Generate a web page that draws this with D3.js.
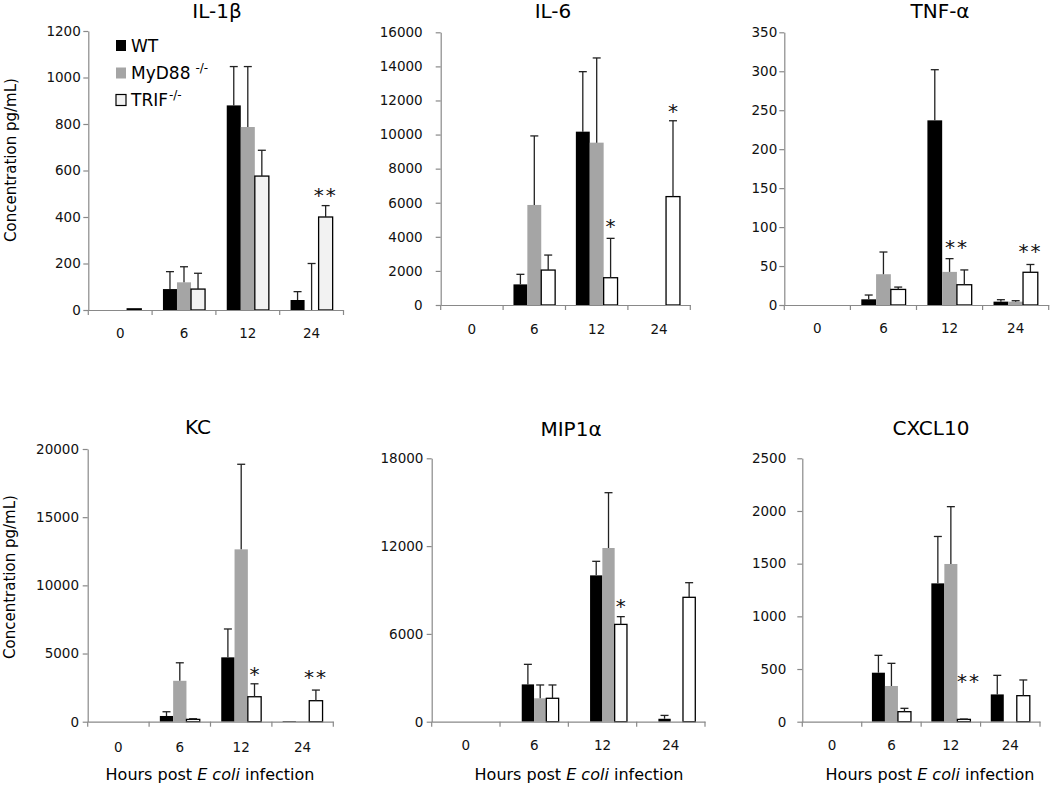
<!DOCTYPE html>
<html><head><meta charset="utf-8">
<script src="https://cdn.jsdelivr.net/npm/d3@7"></script>
<style>
body{margin:0;background:#fff;}
svg{display:block;font-family:"DejaVu Sans",sans-serif;}
</style></head><body>
<svg id="chart" width="1050" height="785"></svg>
<script>
const hours = ["0", "6", "12", "24"];
const seriesNames = ["WT", "MyD88", "TRIF"];

// IL-1β
const il1bTicks = [0, 200, 400, 600, 800, 1000, 1200];
const il1bWT = [0, 90, 880, 43];
const il1bWTErr = [0, 75, 167, 36];
const il1bMy = [0, 119, 787, 0];
const il1bMyErr = [0, 67, 260, 200];
const il1bTrif = [5, 90, 576, 400];
const il1bTrifErr = [0, 68, 111, 49];
const il1bStars = [["24", 2, 509, "**"]];

// IL-6
const il6Ticks = [0, 2000, 4000, 6000, 8000, 10000, 12000, 14000, 16000];
const il6WT = [0, 1210, 10170, 0];
const il6WTErr = [0, 590, 3520, 0];
const il6My = [0, 5870, 9525, 0];
const il6MyErr = [0, 4050, 4970, 0];
const il6Trif = [0, 2050, 1600, 6360];
const il6TrifErr = [0, 880, 2310, 4450];
const il6Stars = [["12", 2, 4880, "*"], ["24", 2, 11620, "*"]];

// TNF-α
const tnfTicks = [0, 50, 100, 150, 200, 250, 300, 350];
const tnfWT = [0, 7.3, 237, 4.3];
const tnfWTErr = [0, 5.5, 65, 2.5];
const tnfMy = [0, 39.5, 42.5, 4.3];
const tnfMyErr = [0, 28.5, 17, 1.2];
const tnfTrif = [0, 20, 26, 42];
const tnfTrifErr = [0, 3, 19, 10];
const tnfStars = [["12", 1.5, 79, "**"], ["24", 2, 74, "**"]];

// KC
const kcTicks = [0, 5000, 10000, 15000, 20000];
const kcWT = [0, 420, 4720, 50];
const kcWTErr = [0, 310, 2080, 0];
const kcMy = [0, 3000, 12640, 50];
const kcMyErr = [0, 1320, 6240, 0];
const kcTrif = [0, 170, 1830, 1540];
const kcTrifErr = [0, 50, 950, 780];
const kcStars = [["12", 2, 3790, "*"], ["24", 2, 3550, "**"]];

// MIP1α
const mipTicks = [0, 6000, 12000, 18000];
const mipWT = [0, 2550, 10000, 200];
const mipWTErr = [0, 1370, 960, 230];
const mipMy = [0, 1600, 11870, 0];
const mipMyErr = [0, 910, 3780, 0];
const mipTrif = [0, 1600, 6650, 8500];
const mipTrifErr = [0, 910, 530, 1000];
const mipStars = [["12", 2, 8200, "*"]];

// CXCL10
const cxTicks = [0, 500, 1000, 1500, 2000, 2500];
const cxWT = [0, 465, 1313, 259];
const cxWTErr = [0, 165, 445, 181];
const cxMy = [0, 339, 1497, 0];
const cxMyErr = [0, 215, 544, 0];
const cxTrif = [0, 95, 22, 247];
const cxTrifErr = [0, 32, 3, 149];
const cxStars = [["12", 2.4, 427, "**"]];

const panels = [
  {title: "IL-1β", ticks: il1bTicks, vals: [il1bWT, il1bMy, il1bTrif], errs: [il1bWTErr, il1bMyErr, il1bTrifErr], stars: il1bStars,
   L: {x0: 88.3, x1: 343.5, yTop: 31, yBottom: 310, yPad: 2.5, xPad: 18.7, frac: 0.66, shift: 0, tx: 217, ty: 18, trifFill: "#f2f2f2", ylab: [11, 160], legend: true}},
  {title: "IL-6", ticks: il6Ticks, vals: [il6WT, il6My, il6Trif], errs: [il6WTErr, il6MyErr, il6TrifErr], stars: il6Stars,
   L: {x0: 440.7, x1: 690.3, yTop: 32.3, yBottom: 305, yPad: 13, xPad: 19.5, frac: 0.668, shift: 0, tx: 553, ty: 17.5, trifFill: "#fff"}},
  {title: "TNF-α", ticks: tnfTicks, vals: [tnfWT, tnfMy, tnfTrif], errs: [tnfWTErr, tnfMyErr, tnfTrifErr], stars: tnfStars,
   L: {x0: 784.3, x1: 1048.7, yTop: 32.3, yBottom: 305, yPad: 2, xPad: 18.7, frac: 0.67, shift: 0, tx: 940, ty: 18, trifFill: "#fff"}},
  {title: "KC", ticks: kcTicks, vals: [kcWT, kcMy, kcTrif], errs: [kcWTErr, kcMyErr, kcTrifErr], stars: kcStars,
   L: {x0: 87.7, x1: 333.3, yTop: 449, yBottom: 721.7, yPad: 3.7, xPad: 20.3, frac: 0.65, shift: 0, tx: 198, ty: 434, trifFill: "#fff", ylab: [10, 577], xtitle: 210}},
  {title: "MIP1α", ticks: mipTicks, vals: [mipWT, mipMy, mipTrif], errs: [mipWTErr, mipMyErr, mipTrifErr], stars: mipStars,
   L: {x0: 431.7, x1: 705, yTop: 458.3, yBottom: 721.7, yPad: 3.3, xPad: 18.7, frac: 0.54, shift: 6, tx: 571, ty: 436, trifFill: "#fff", xtitle: 579}},
  {title: "CXCL10", ticks: cxTicks, vals: [cxWT, cxMy, cxTrif], errs: [cxWTErr, cxMyErr, cxTrifErr], stars: cxStars,
   L: {x0: 802.3, x1: 1040, yTop: 458.3, yBottom: 721.7, yPad: 11, xPad: 18.7, frac: 0.657, shift: 0, tx: 931, ty: 435, trifFill: "#fff", xtitle: 930}}
];

const svg = d3.select("#chart");
const axisGrey = "#898989";
const FONT = "DejaVu Sans, sans-serif";

panels.forEach(p => {
  const L = p.L;
  const g = svg.append("g");
  const y = d3.scaleLinear().domain([0, p.ticks[p.ticks.length - 1]]).range([L.yBottom, L.yTop]);
  const x = d3.scaleBand().domain(hours).range([L.x0, L.x1]).padding(0);
  const groupW = x.bandwidth() * L.frac;
  const xs = d3.scaleBand().domain([0, 1, 2]).range([0, groupW]);
  const bw = xs.bandwidth();
  const barX = (h, i) => x(h) + (x.bandwidth() - groupW) / 2 + L.shift + i * bw;
  const fills = ["#000", "#a5a5a5", L.trifFill];

  const rows = [];
  hours.forEach((h, hi) => p.vals.forEach((v, si) => rows.push({h, si, v: v[hi], e: p.errs[si][hi]})));

  // bars
  g.selectAll("rect.bar").data(rows.filter(d => d.v > 0)).join("rect")
    .attr("class", "bar")
    .attr("x", d => barX(d.h, d.si))
    .attr("width", bw)
    .attr("y", d => y(d.v))
    .attr("height", d => y(0) - y(d.v))
    .attr("fill", d => fills[d.si])
    .attr("stroke", d => d.si === 2 ? "#000" : "none")
    .attr("stroke-width", 1.3);

  // y axis
  const ya = g.append("g").attr("transform", `translate(${L.x0},0)`)
    .call(d3.axisLeft(y).tickValues(p.ticks).tickSize(5).tickSizeOuter(0).tickPadding(L.yPad).tickFormat(d3.format("d")));
  ya.attr("font-family", FONT).attr("font-size", 13.5);
  ya.select(".domain").attr("stroke", axisGrey).attr("stroke-width", 1.2);
  ya.selectAll(".tick line").attr("stroke", axisGrey).attr("stroke-width", 1.2);
  ya.selectAll(".tick text").attr("fill", "#111");

  // x axis
  const xa = g.append("g").attr("transform", `translate(0,${L.yBottom})`)
    .call(d3.axisBottom(x).tickSize(0).tickSizeOuter(0).tickPadding(L.xPad));
  xa.attr("font-family", FONT).attr("font-size", 13.5);
  xa.select(".domain").attr("stroke", axisGrey).attr("stroke-width", 1.2);
  xa.selectAll(".tick text").attr("fill", "#111");
  const bounds = hours.map(h => x(h)).concat([x.range()[1]]);
  g.selectAll("line.bt").data(bounds).join("line")
    .attr("class", "bt")
    .attr("x1", d => d).attr("x2", d => d)
    .attr("y1", L.yBottom).attr("y2", L.yBottom + 5)
    .attr("stroke", axisGrey).attr("stroke-width", 1.2);

  // error bars
  const errRows = rows.filter(d => d.e > 0);
  g.selectAll("line.err").data(errRows).join("line")
    .attr("class", "err")
    .attr("x1", d => barX(d.h, d.si) + bw / 2).attr("x2", d => barX(d.h, d.si) + bw / 2)
    .attr("y1", d => y(d.v)).attr("y2", d => y(d.v + d.e))
    .attr("stroke", "#222").attr("stroke-width", 1.3);
  g.selectAll("line.cap").data(errRows).join("line")
    .attr("class", "cap")
    .attr("x1", d => barX(d.h, d.si) + bw / 2 - 4).attr("x2", d => barX(d.h, d.si) + bw / 2 + 4)
    .attr("y1", d => y(d.v + d.e)).attr("y2", d => y(d.v + d.e))
    .attr("stroke", "#222").attr("stroke-width", 1.3);

  // significance stars
  const sfs = 20;
  g.selectAll("text.star").data(p.stars).join("text")
    .attr("class", "star")
    .attr("x", d => barX(d[0], d[1]) + bw / 2)
    .attr("y", d => y(d[2]) + 0.54 * sfs)
    .attr("text-anchor", "middle")
    .attr("font-family", FONT).attr("font-size", sfs)
    .attr("letter-spacing", d => d[3].length > 1 ? 2 : 0)
    .attr("fill", "#111")
    .text(d => d[3]);

  // title
  g.append("text").attr("x", L.tx).attr("y", L.ty)
    .attr("text-anchor", "middle").attr("font-family", FONT).attr("font-size", 20)
    .attr("fill", "#000").text(p.title);

  // y label
  if (L.ylab) {
    g.append("text")
      .attr("transform", `translate(${L.ylab[0]},${L.ylab[1]}) rotate(-90)`)
      .attr("text-anchor", "middle").attr("dominant-baseline", "central")
      .attr("font-family", FONT).attr("font-size", 15).attr("fill", "#000")
      .text("Concentration pg/mL)");
  }

  // x title
  if (L.xtitle) {
    const t = g.append("text").attr("x", L.xtitle).attr("y", 780)
      .attr("text-anchor", "middle").attr("font-family", FONT).attr("font-size", 16).attr("fill", "#000");
    t.append("tspan").text("Hours post ");
    t.append("tspan").attr("font-style", "italic").text("E coli");
    t.append("tspan").text(" infection");
  }

  // legend
  if (L.legend) {
    const lg = g.append("g");
    const base = [51.5, 79, 106];
    const lf = [fills[0], fills[1], fills[2]];
    seriesNames.forEach((name, i) => {
      lg.append("rect").attr("x", 116).attr("y", base[i] - 11.5).attr("width", 10).attr("height", 11)
        .attr("fill", lf[i]).attr("stroke", i === 2 ? "#000" : "none").attr("stroke-width", 1.2);
      const t = lg.append("text").attr("x", 131).attr("y", base[i])
        .attr("font-family", FONT).attr("font-size", 17).attr("fill", "#000");
      t.append("tspan").text(name);
      if (i === 1) {
        t.append("tspan").attr("dx", 5).attr("dy", -7).attr("font-size", 12).text("-/-");
      } else if (i === 2) {
        t.append("tspan").attr("dx", 1).attr("dy", -7).attr("font-size", 12).text("-/-");
      }
    });
  }
});
</script>
</body></html>
